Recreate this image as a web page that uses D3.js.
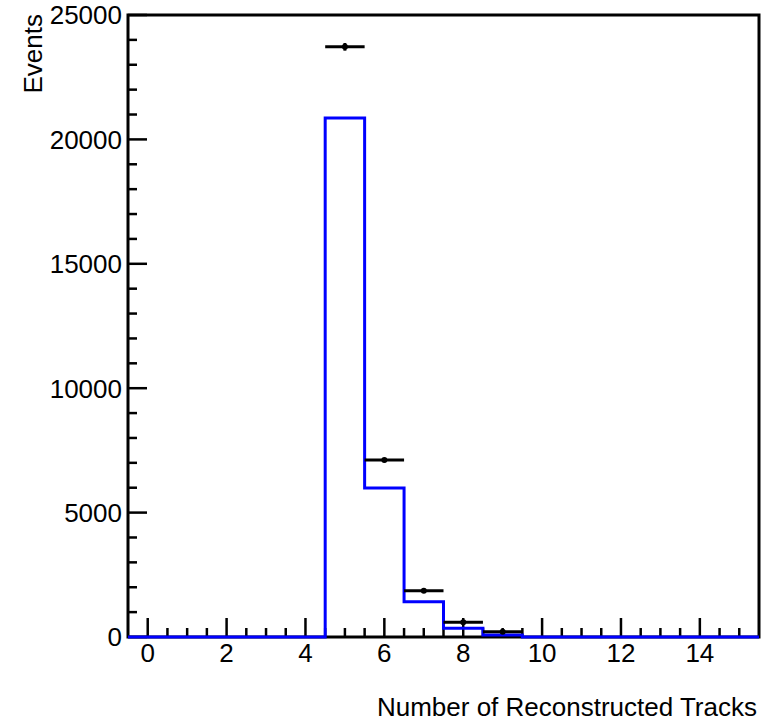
<!DOCTYPE html>
<html>
<head>
<meta charset="utf-8">
<script src="https://cdn.jsdelivr.net/npm/d3@7"></script>
<style>
body { margin: 0; background: #fff; }
text { font-family: "Liberation Sans", Arial, sans-serif; fill: #000; }
</style>
</head>
<body>
<div id="chart"></div>
<script>
// bins are integer track counts 0..15
var bins = d3.range(0, 16);
var mcCounts = [0, 0, 0, 0, 0, 20860, 5990, 1420, 350, 80, 0, 0, 0, 0, 0, 0];
var dataCounts = [0, 0, 0, 0, 0, 23720, 7110, 1860, 590, 210, 0, 0, 0, 0, 0, 0];
var xTicks = [0, 2, 4, 6, 8, 10, 12, 14];
var yTicks = [0, 5000, 10000, 15000, 20000, 25000];

var W = 767, H = 723;
var margin = {top: 15, left: 128, right: 8, bottom: 86};
var width = W - margin.left - margin.right,
    height = H - margin.top - margin.bottom;
var fs = 26;

var svg = d3.select("#chart").append("svg")
    .attr("width", W).attr("height", H);
var g = svg.append("g").attr("transform", "translate(" + margin.left + "," + margin.top + ")");

var x = d3.scaleLinear().domain([-0.5, 15.5]).range([0, width]);
var y = d3.scaleLinear().domain([0, 25000]).range([height, 0]);

// minor + major ticks, pointing inward
var xMinor = d3.range(-0.5, 15.51, 0.5).filter(function (v) { return v > -0.5 && v < 15.5 && v % 2 != 0; });
g.selectAll(".xminor").data(xMinor).enter().append("line")
    .attr("x1", function (d) { return x(d); }).attr("x2", function (d) { return x(d); })
    .attr("y1", height).attr("y2", height - 9)
    .attr("stroke", "#000").attr("stroke-width", 2.5);
g.selectAll(".xmajor").data(xTicks).enter().append("line")
    .attr("x1", function (d) { return x(d); }).attr("x2", function (d) { return x(d); })
    .attr("y1", height).attr("y2", height - 19)
    .attr("stroke", "#000").attr("stroke-width", 2.5);
g.selectAll(".xlab").data(xTicks).enter().append("text")
    .attr("x", function (d) { return x(d); }).attr("y", height + 25)
    .attr("text-anchor", "middle").attr("font-size", fs)
    .text(function (d) { return d; });

var yMinor = d3.range(1000, 25000, 1000).filter(function (v) { return v % 5000 != 0; });
g.selectAll(".yminor").data(yMinor).enter().append("line")
    .attr("x1", 0).attr("x2", 9)
    .attr("y1", function (d) { return y(d); }).attr("y2", function (d) { return y(d); })
    .attr("stroke", "#000").attr("stroke-width", 2.5);
g.selectAll(".ymajor").data(yTicks).enter().append("line")
    .attr("x1", 0).attr("x2", 19)
    .attr("y1", function (d) { return y(d); }).attr("y2", function (d) { return y(d); })
    .attr("stroke", "#000").attr("stroke-width", 2.5);
g.selectAll(".ylab").data(yTicks).enter().append("text")
    .attr("x", -6).attr("y", function (d) { return y(d); })
    .attr("dy", "0.36em")
    .attr("text-anchor", "end").attr("font-size", fs)
    .text(function (d) { return d; });

// frame
g.append("rect").attr("x", 0).attr("y", 0).attr("width", width).attr("height", height)
    .attr("fill", "none").attr("stroke", "#000").attr("stroke-width", 3);

// MC histogram outline
var pts = [];
bins.forEach(function (b, i) {
    pts.push([x(b - 0.5), y(mcCounts[i])]);
    pts.push([x(b + 0.5), y(mcCounts[i])]);
});
pts.unshift([x(-0.5), y(0)]);
pts.push([x(15.5), y(0)]);
g.append("path").attr("d", d3.line()(pts))
    .attr("fill", "none").attr("stroke", "#0000ff").attr("stroke-width", 3);

// data points with error bars
var dataPts = bins.map(function (b, i) { return {b: b, v: dataCounts[i]}; })
    .filter(function (d) { return d.v > 0; });
g.selectAll(".hbar").data(dataPts).enter().append("line")
    .attr("x1", function (d) { return x(d.b - 0.5); }).attr("x2", function (d) { return x(d.b + 0.5); })
    .attr("y1", function (d) { return y(d.v); }).attr("y2", function (d) { return y(d.v); })
    .attr("stroke", "#000").attr("stroke-width", 3);
g.selectAll(".vbar").data(dataPts).enter().append("line")
    .attr("x1", function (d) { return x(d.b); }).attr("x2", function (d) { return x(d.b); })
    .attr("y1", function (d) { return y(d.v + Math.sqrt(d.v)); }).attr("y2", function (d) { return y(d.v - Math.sqrt(d.v)); })
    .attr("stroke", "#000").attr("stroke-width", 3);
g.selectAll(".dot").data(dataPts).enter().append("circle")
    .attr("cx", function (d) { return x(d.b); }).attr("cy", function (d) { return y(d.v); })
    .attr("r", 3).attr("fill", "#000");

// axis titles
svg.append("text")
    .attr("transform", "translate(42,14) rotate(-90)")
    .attr("text-anchor", "end").attr("font-size", fs)
    .text("Events");
svg.append("text")
    .attr("x", 757).attr("y", 716)
    .attr("text-anchor", "end").attr("font-size", fs)
    .text("Number of Reconstructed Tracks");
</script>
</body>
</html>
